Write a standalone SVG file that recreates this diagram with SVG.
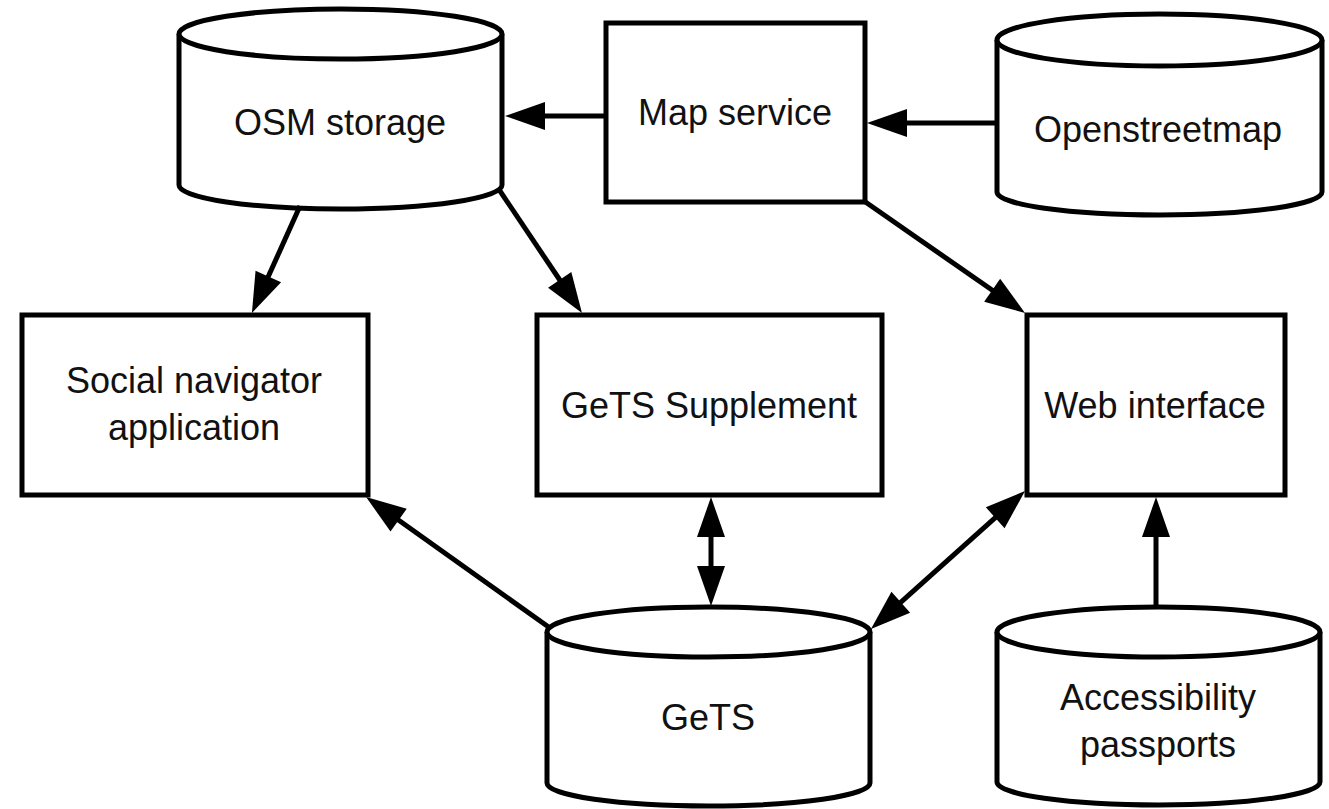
<svg xmlns="http://www.w3.org/2000/svg" width="1329" height="809" viewBox="0 0 1329 809">
<style>
.box{fill:#fff;stroke:#000;stroke-width:5}
.cyl{fill:#fff;stroke:#000;stroke-width:5}
.lbl{font-family:"Liberation Sans",Arial,sans-serif;font-size:36px;fill:#111;text-anchor:middle}
.con{fill:none;stroke:#000;stroke-width:5}
.end{marker-end:url(#ah)}
.both{marker-end:url(#ah);marker-start:url(#ah)}
</style>
<defs>
<marker id="ah" markerUnits="userSpaceOnUse" markerWidth="44" markerHeight="32" viewBox="-3 -16 44 32" refX="0" refY="0" orient="auto-start-reverse" overflow="visible">
<path d="M-2,-14 L38,0 L-2,14 z" fill="#000"/>
</marker>
</defs>
<rect width="1329" height="809" fill="#fff"/>

<g id="osm-storage">
<path class="cyl" d="M179,34 L179,185 A161.5,24 0 0 0 502,185 L502,34"/>
<ellipse class="cyl" cx="340.5" cy="34" rx="161.5" ry="25"/>
<text class="lbl" x="340" y="135">OSM storage</text>
</g>

<g id="map-service">
<rect class="box" x="606" y="23" width="259" height="179"/>
<text class="lbl" x="735" y="125">Map service</text>
</g>

<g id="openstreetmap">
<path class="cyl" d="M997,40 L997,192 A162.5,23 0 0 0 1322,192 L1322,40"/>
<ellipse class="cyl" cx="1159.5" cy="40" rx="162.5" ry="26"/>
<text class="lbl" x="1158" y="142">Openstreetmap</text>
</g>

<g id="social-navigator">
<rect class="box" x="22" y="315" width="346" height="180"/>
<text class="lbl" x="194" y="393">Social navigator</text>
<text class="lbl" x="194" y="440">application</text>
</g>

<g id="gets-supplement">
<rect class="box" x="537" y="315" width="345" height="180"/>
<text class="lbl" x="709" y="418">GeTS Supplement</text>
</g>

<g id="web-interface">
<rect class="box" x="1027" y="315" width="258" height="180"/>
<text class="lbl" x="1155" y="418">Web interface</text>
</g>

<g id="gets">
<path class="cyl" d="M547,632 L547,783 A161.5,23 0 0 0 870,783 L870,632"/>
<ellipse class="cyl" cx="708.5" cy="632" rx="161.5" ry="25"/>
<text class="lbl" x="708" y="730">GeTS</text>
</g>

<g id="accessibility-passports">
<path class="cyl" d="M997,632 L997,782 A161.5,23 0 0 0 1320,782 L1320,632"/>
<ellipse class="cyl" cx="1158.5" cy="632" rx="161.5" ry="25"/>
<text class="lbl" x="1158" y="710">Accessibility</text>
<text class="lbl" x="1158" y="757">passports</text>
</g>

<g id="connectors">
<path class="con end" d="M604,116 L543,116"/>
<path class="con end" d="M997,123 L905,123"/>
<path class="con end" d="M300,206 L267.5,278.3"/>
<path class="con end" d="M498,188 L560.8,281.5"/>
<path class="con end" d="M864,201 L993.8,291.3"/>
<path class="con end" d="M550,628 L397,519"/>
<path class="con both" d="M899.3,603.6 L996.7,516.4"/>
<path class="con both" d="M711,568 L711,535"/>
<path class="con end" d="M1156,607 L1156,535"/>
</g>
</svg>
